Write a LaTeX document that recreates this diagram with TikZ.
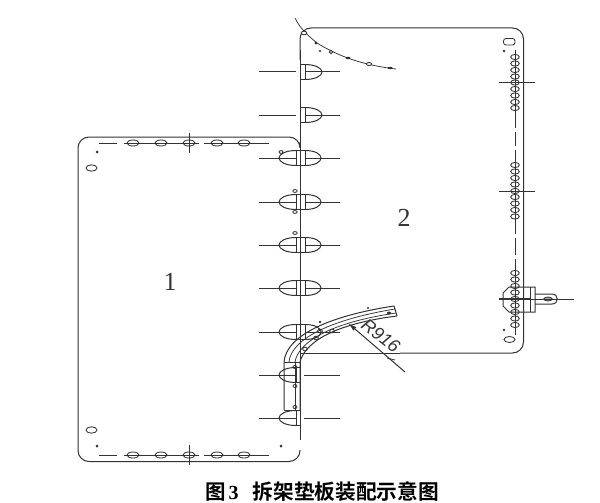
\documentclass[tikz,border=0pt]{standalone}
\usepackage{fontspec}
\setmainfont{Liberation Serif}
\setsansfont{Liberation Sans}
\newfontfamily\cjk[BoldFont={Noto Sans CJK SC Bold}]{Noto Sans CJK SC}
\usetikzlibrary{arrows.meta}
\definecolor{ink}{gray}{0.2}
\tikzset{
  ln/.style={draw=ink,line width=1pt},
  thin ln/.style={draw=ink,line width=0.75pt},
  holeb/.style={draw=ink,line width=0.85pt,fill=white},
}
\begin{document}
\begin{tikzpicture}[x=1pt,y=-1pt]
\useasboundingbox (0,0) rectangle (600,503);
\fill[white] (0,0) rectangle (600,503);
% plate 1
\draw[ln,rounded corners=11pt] (300,142) |- (78,137) |- (300,461.5) -- (300,450);
% plate 2
\draw[ln,rounded corners=11pt] (300,60) |- (523.5,28) |- (400,353);
\draw[ln] (400,353) -- (300,353);
\draw[ln] (300,50) -- (300,440);
% top-left arc
\draw[thin ln] (295,18) .. controls (300,28) and (306,34) .. (317,43) .. controls (338,56) and (362,65) .. (396,69);
\draw[holeb] (304,33) ellipse[x radius=2.8,y radius=1.8];
\fill[ink] (316,43) circle[radius=1.7];
\fill[ink] (348,58) ellipse[x radius=2.5,y radius=1.3];
\draw[holeb] (369,64) ellipse[x radius=2.5,y radius=1.5];
\fill[ink] (390,68) ellipse[x radius=2.5,y radius=1.2];
\draw[holeb] (331,52) circle[radius=1.8];
\fill[ink!80] (320,51) circle[radius=1.4];
% full bolts
\foreach \y in {158,202,245,288,332}{
  \draw[ln] (259,\y) -- (296,\y);
  \draw[ln] (305,\y) -- (340,\y);
  \draw[ln] (296,\y-7.5) -- (305,\y-7.5) (296,\y+7.5) -- (305,\y+7.5);
  \draw[ln] (296,\y-7.5) -- (296,\y+7.5) (305,\y-7.5) -- (305,\y+7.5);
  \draw[ln] (296,\y-7.5) .. controls (286,\y-7.5) and (279,\y-4) .. (279,\y) .. controls (279,\y+4) and (286,\y+7.5) .. (296,\y+7.5);
  \draw[ln] (305,\y-7.5) .. controls (315,\y-7.5) and (321,\y-4) .. (321,\y) .. controls (321,\y+4) and (315,\y+7.5) .. (305,\y+7.5);
}
% right-half bolts
\foreach \y in {72,115}{
  \draw[ln] (259,\y) -- (296,\y);
  \draw[ln] (305,\y) -- (340,\y);
  \draw[ln] (300,\y-7.5) -- (305,\y-7.5) (300,\y+7.5) -- (305,\y+7.5);
  \draw[ln] (305,\y-7.5) -- (305,\y+7.5);
  \draw[ln] (305,\y-7.5) .. controls (315,\y-7.5) and (322,\y-4) .. (322,\y) .. controls (322,\y+4) and (315,\y+7.5) .. (305,\y+7.5);
}
% left-half bolts
\foreach \y in {375,418}{
  \draw[ln] (259,\y) -- (296,\y);
  \draw[ln] (304,\y) -- (340,\y);
  \draw[ln] (296,\y-7.5) -- (300,\y-7.5) (296,\y+7.5) -- (300,\y+7.5);
  \draw[ln] (296,\y-7.5) -- (296,\y+7.5);
  \draw[ln] (296,\y-7.5) .. controls (286,\y-7.5) and (279,\y-4) .. (279,\y) .. controls (279,\y+4) and (286,\y+7.5) .. (296,\y+7.5);
}
% small holes near bolts
\draw[holeb] (281,152) ellipse[x radius=2,y radius=1.4];
\draw[holeb] (295,191) ellipse[x radius=2.2,y radius=1.4];
\draw[holeb] (295,212) ellipse[x radius=2.2,y radius=1.4];
\draw[holeb] (295,233) ellipse[x radius=2.2,y radius=1.4];
% plate 1 centre lines and holes
\foreach \y in {143,455}{
  \draw[ln] (99,\y) -- (117,\y);
  \draw[ln] (124,\y) -- (199,\y);
  \draw[ln] (204,\y) -- (269,\y);
  \foreach \x in {133,161,189,217,244}{
    \draw[holeb,fill=none] (\x,\y) ellipse[x radius=6,y radius=3];
  }
  \draw[ln] (189,\y-10) -- (189,\y+10);
}
\fill[ink] (97,152) circle[radius=1.5];
\fill[ink] (97,446) circle[radius=1.5];
\fill[ink] (281,446) circle[radius=1.5];
\draw[holeb] (91.5,168) ellipse[x radius=5.5,y radius=3.2];
\draw[holeb] (91.5,430) ellipse[x radius=5.5,y radius=3.2];
% right column
\draw[ln] (515,50) -- (515,128) (515,132) -- (515,146) (515,150) -- (515,234) (515,238) -- (515,255) (515,259) -- (515,335);
\foreach \y in {57,63.5,70,76.5,82.5,89,95.5,102,108,165,171.5,178,184.5,191,197,203.5,210,216.5,273,279.5,286,292.5,299,305.5,312,318.5,325}{
  \draw[holeb,fill=none] (515,\y) ellipse[x radius=4.3,y radius=2.6];
}
\foreach \y in {82.5,191}{ \draw[ln] (499,\y) -- (535,\y); }
\draw[holeb,rounded corners=2.5pt] (503.5,38.5) rectangle (515,45);
\draw[holeb] (509.5,339.5) ellipse[x radius=5.5,y radius=3];
\fill[ink] (504,51) circle[radius=1.4];
\fill[ink] (504,330) circle[radius=1.4];
% hinge
\draw[ln] (509,287) -- (535,287) -- (535,312) -- (509,312) -- (503,306) -- (503,293) -- cycle;
\draw[ln] (530,287) -- (530,312);
\draw[ln] (535,294) -- (552,294) .. controls (559,294) and (559,304) .. (552,304) -- (535,304);
\draw[holeb,fill=ink!45] (548,299) ellipse[x radius=4.2,y radius=2];
\draw[line width=1.4pt,draw=ink] (499,299) -- (530,299);
\draw[ln] (530,299) -- (574,299);
% curved strip
\draw[ln] (284,410) -- (284,362) .. controls (286,336) and (328,316) .. (394,306);
\draw[ln] (300,410) -- (300,362) .. controls (304,346) and (326,325) .. (397,316);
\draw[thin ln] (289,362) .. controls (291,340) and (328,320) .. (395,309);
\draw[thin ln] (295,362) .. controls (298,343) and (328,323) .. (396,313);
\draw[ln] (394,306) -- (397,316);
\draw[ln] (284,362) -- (300,362);
\draw[ln] (284,410) -- (300,410);
\draw[thin ln] (295,362) -- (295,410);
\foreach \x/\y in {305/349,316/338,332/331,320/331}{ \draw[holeb,fill=none] (\x,\y) ellipse[x radius=2.4,y radius=1.8]; }
\fill[ink] (368,308) circle[radius=1.2];
\fill[ink] (389,313) ellipse[x radius=2.2,y radius=1.5];
\fill[ink] (320,322) circle[radius=1.3];
\foreach \y in {367,386,407}{ \draw[thin ln] (295,\y) ellipse[x radius=2,y radius=1.6]; }
% R916 leader
\coordinate (leaderEnd) at (405,372);
\coordinate (leaderTip) at (348,323);
\draw[ln,-{Latex[length=9pt,width=4.5pt]}] (leaderEnd) -- (leaderTip);
\draw[thin ln] (387,358) -- (395,360);
\node[rotate=-38,text=ink,inner sep=0pt] (rlabel) at (381,336) {\fontsize{18}{20}\selectfont\itshape\sffamily R916};
% labels
\node[text=ink,inner sep=0pt] (one) at (170,282) {\fontsize{26}{28}\selectfont 1};
\node[text=ink,inner sep=0pt] (two) at (404,218) {\fontsize{26}{28}\selectfont 2};
\node[inner sep=0pt,anchor=base west,text=black] (cap) at (205,499) {{\cjk\bfseries\fontsize{20.5}{24}\selectfont 图}\hspace{3pt}{\bfseries\fontsize{20}{24}\selectfont 3}\hspace{14pt}{\cjk\bfseries\fontsize{20.7}{24}\selectfont 拆架垫板装配示意图}};
\end{tikzpicture}
\end{document}
